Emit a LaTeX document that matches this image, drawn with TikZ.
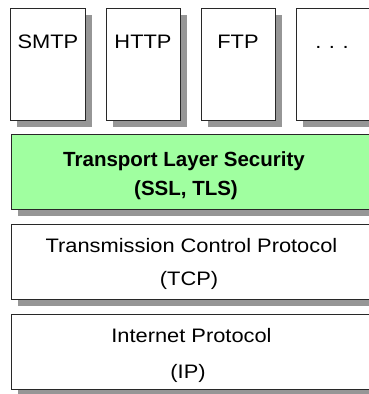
\documentclass[tikz,border=0pt]{standalone}
\usepackage{fontspec}
\setmainfont{Liberation Sans}
\usetikzlibrary{shadows}
\definecolor{shadowgray}{RGB}{150,150,150}
\definecolor{tlsgreen}{RGB}{160,255,160}
\definecolor{edgecol}{RGB}{40,40,40}
\newcommand{\widetxt}[1]{\scalebox{1.12}[1]{#1}}
\begin{document}
\begin{tikzpicture}[x=1pt,y=-1pt,
  layerbox/.style={draw=edgecol, line width=0.9pt, fill=white, anchor=north west,
    inner sep=0pt, outer sep=0pt,
    drop shadow={shadow xshift=6.5pt, shadow yshift=-6.5pt, fill=shadowgray, opacity=1}},
  appbox/.style={layerbox, minimum width=74.3pt, minimum height=111.7pt},
  wide/.style={layerbox, minimum width=374pt, minimum height=75pt},
  lbl/.style={anchor=base, inner sep=0pt, font=\fontsize{19.5}{23}\selectfont},
  blbl/.style={anchor=base, inner sep=0pt, font=\fontsize{20.5}{24}\selectfont\bfseries}]
\useasboundingbox (0,0) rectangle (369,394);
\clip (0,0) rectangle (369,394);
% application boxes
\node[appbox] (smtp) at (10.7,8.3) {};
\node[appbox] (http) at (106,8.3) {};
\node[appbox] (ftp)  at (201,8.3) {};
\node[appbox] (more) at (296,8.3) {};
\node[lbl] (smtp-t) at (47.9,48.3) {\widetxt{SMTP}};
\node[lbl] (http-t) at (143,48.3) {\widetxt{HTTP}};
\node[lbl] (ftp-t)  at (238,48.3) {\widetxt{FTP}};
\node[lbl] (more-t) at (332,48.3) {\widetxt{.\hspace{0.35em}.\hspace{0.35em}.}};
% layers
\node[wide, fill=tlsgreen] (tls) at (11,134) {};
\node[wide] (tcp) at (11,224) {};
\node[wide] (ip)  at (11,314) {};
\node[blbl] (tls-a) at (184,166) {Transport Layer Security};
\node[blbl] (tls-b) at (186,195) {(SSL, TLS)};
\node[lbl] (tcp-a) at (191.5,252.3) {\widetxt{Transmission Control Protocol}};
\node[lbl] (tcp-b) at (189,285) {\widetxt{(TCP)}};
\node[lbl] (ip-a) at (191.5,342.3) {\widetxt{Internet Protocol}};
\node[lbl] (ip-b) at (188,378.3) {\widetxt{(IP)}};
\end{tikzpicture}
\end{document}
